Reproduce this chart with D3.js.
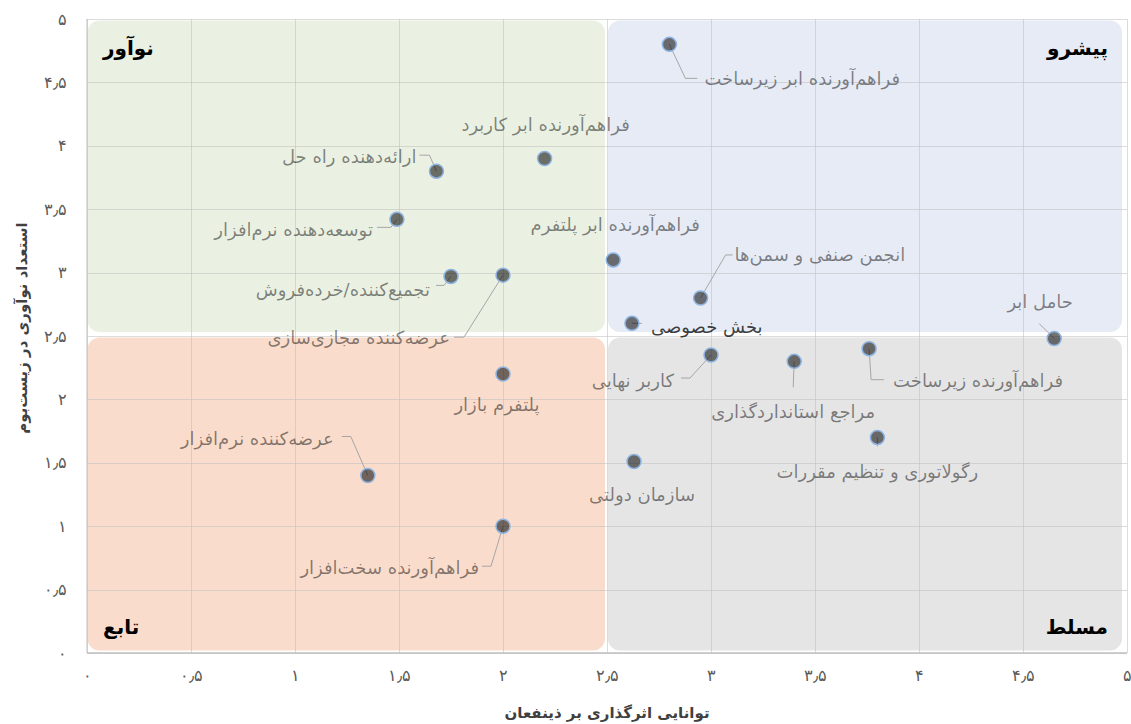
<!DOCTYPE html>
<html lang="fa">
<head>
<meta charset="utf-8">
<script src="https://cdn.jsdelivr.net/npm/d3@7"></script>
<style>
    body { margin: 0; background: #fff; }
    svg { display: block; font-family: "DejaVu Sans", "Noto Sans", sans-serif; }
</style>
</head>
<body>
<div id="chart"></div>
<script>
// chart data
const actors = [
    'فراهم‌آورنده ابر زیرساخت',
    'فراهم‌آورنده ابر کاربرد',
    'ارائه‌دهنده راه حل',
    'توسعه‌دهنده نرم‌افزار',
    'تجمیع‌کننده/خرده‌فروش',
    'عرضه‌کننده مجازی‌سازی',
    'فراهم‌آورنده ابر پلتفرم',
    'انجمن صنفی و سمن‌ها',
    'بخش خصوصی',
    'حامل ابر',
    'کاربر نهایی',
    'مراجع استانداردگذاری',
    'فراهم‌آورنده زیرساخت',
    'رگولاتوری و تنظیم مقررات',
    'سازمان دولتی',
    'پلتفرم بازار',
    'عرضه‌کننده نرم‌افزار',
    'فراهم‌آورنده سخت‌افزار'
];
const influence = [2.8, 2.2, 1.68, 1.49, 1.75, 2.0, 2.53, 2.95, 2.62, 4.65, 3.0, 3.4, 3.76, 3.8, 2.63, 2.0, 1.35, 2.0];
const innovation = [4.8, 3.9, 3.8, 3.42, 2.97, 2.98, 3.1, 2.8, 2.6, 2.48, 2.35, 2.3, 2.4, 1.7, 1.51, 2.2, 1.4, 1.0];

const tickValues = [0, 0.5, 1, 1.5, 2, 2.5, 3, 3.5, 4, 4.5, 5];
const tickLabels = ['۰', '۰٫۵', '۱', '۱٫۵', '۲', '۲٫۵', '۳', '۳٫۵', '۴', '۴٫۵', '۵'];

const quadrantNames = ['نوآور', 'پیشرو', 'تابع', 'مسلط'];
const xTitle = 'توانایی اثرگذاری بر ذینفعان';
const yTitle = 'استعداد نوآوری در زیست‌بوم';

// label placement relative to each point (pixels)
const labelLayout = [
    { dx: 35, dy: 34, anchor: 'start', leader: [[16, 34], [28, 34]] },
    { dx: 1, dy: -34, anchor: 'middle', leader: null },
    { dx: -20, dy: -14, anchor: 'end', leader: [[-7, -16], [-17, -16]] },
    { dx: -24, dy: 10, anchor: 'end', leader: [[-6, 8], [-20, 8]] },
    { dx: -21, dy: 13, anchor: 'end', leader: [[-7, 9], [-15, 9]] },
    { dx: -53, dy: 63, anchor: 'end', leader: [[-39, 62], [-49, 62]] },
    { dx: 2, dy: -35, anchor: 'middle', leader: null },
    { dx: 34, dy: -43, anchor: 'start', leader: [[25, -43], [32, -43]] },
    { dx: 19, dy: 3, anchor: 'start', leader: [[10, 0]] },
    { dx: -14, dy: -37, anchor: 'middle', leader: [[-15, -15]] },
    { dx: -37, dy: 26, anchor: 'end', leader: [[-21, 23], [-30, 23]] },
    { dx: -1, dy: 50, anchor: 'middle', leader: [[-1, 26]] },
    { dx: 24, dy: 32, anchor: 'start', leader: [[2, 31], [15, 31]] },
    { dx: 0, dy: 34, anchor: 'middle', leader: [[0, 9]] },
    { dx: 8, dy: 33, anchor: 'middle', leader: null },
    { dx: -6, dy: 31, anchor: 'middle', leader: null },
    { dx: -34, dy: -37, anchor: 'end', leader: [[-17, -39], [-26, -39]] },
    { dx: -24, dy: 41, anchor: 'end', leader: [[-12, 40], [-21, 40]] }
];

const width = 1131;
const height = 724;
const margin = { top: 19, right: 4, bottom: 71, left: 87 };

const svg = d3.select('#chart')
    .append('svg')
    .attr('width', width)
    .attr('height', height);

const x = d3.scaleLinear().domain([0, 5]).range([margin.left, width - margin.right]);
const y = d3.scaleLinear().domain([0, 5]).range([height - margin.bottom, margin.top]);

// quadrant backgrounds
const quadrants = [
    { x0: x(0) + 0.5, x1: x(2.5) - 2, y0: y(5) + 1.5, y1: y(2.5) - 4, fill: '#eaf1e3' },
    { x0: x(2.5) + 1, x1: x(5) - 5, y0: y(5) + 1.5, y1: y(2.5) - 4, fill: '#e6ebf5' },
    { x0: x(0) + 0.5, x1: x(2.5) - 2, y0: y(2.5) + 1.5, y1: y(0) - 2.5, fill: '#f9dccb' },
    { x0: x(2.5) + 1, x1: x(5) - 5, y0: y(2.5) + 1.5, y1: y(0) - 2.5, fill: '#e5e5e5' }
];

svg.append('g')
    .selectAll('rect')
    .data(quadrants)
    .join('rect')
    .attr('x', d => d.x0)
    .attr('y', d => d.y0)
    .attr('width', d => d.x1 - d.x0)
    .attr('height', d => d.y1 - d.y0)
    .attr('rx', 12)
    .attr('fill', d => d.fill);

// grid
const grid = svg.append('g')
    .attr('stroke', '#bfbfbf')
    .attr('stroke-opacity', 0.55)
    .attr('stroke-width', 1);

grid.selectAll('line.v')
    .data(tickValues)
    .join('line')
    .attr('class', 'v')
    .attr('x1', d => Math.round(x(d)) + 0.5)
    .attr('x2', d => Math.round(x(d)) + 0.5)
    .attr('y1', y(5))
    .attr('y2', y(0));

grid.selectAll('line.h')
    .data(tickValues)
    .join('line')
    .attr('class', 'h')
    .attr('x1', x(0))
    .attr('x2', x(5))
    .attr('y1', d => Math.round(y(d)) + 0.5)
    .attr('y2', d => Math.round(y(d)) + 0.5);

// axis lines
svg.append('line')
    .attr('x1', x(0)).attr('x2', x(5))
    .attr('y1', y(0)).attr('y2', y(0))
    .attr('stroke', '#bfbfbf')
    .attr('stroke-width', 1.5);

svg.append('line')
    .attr('x1', x(0)).attr('x2', x(0))
    .attr('y1', y(0)).attr('y2', y(5))
    .attr('stroke', '#bfbfbf')
    .attr('stroke-width', 1);

// tick labels
const xAxis = d3.axisBottom(x)
    .tickValues(tickValues)
    .tickSize(0)
    .tickPadding(17)
    .tickFormat((d, i) => tickLabels[i]);

svg.append('g')
    .attr('transform', `translate(0,${y(0)})`)
    .call(xAxis)
    .call(g => g.select('.domain').remove())
    .selectAll('text')
    .attr('fill', '#595959')
    .style('font-size', '16px');

const yAxis = d3.axisLeft(y)
    .tickValues(tickValues)
    .tickSize(0)
    .tickPadding(20)
    .tickFormat((d, i) => tickLabels[i]);

svg.append('g')
    .attr('transform', `translate(${x(0)},0)`)
    .call(yAxis)
    .call(g => g.select('.domain').remove())
    .selectAll('text')
    .attr('fill', '#595959')
    .style('font-size', '16px');

// axis titles
svg.append('text')
    .attr('x', 607)
    .attr('y', 713)
    .attr('text-anchor', 'middle')
    .attr('dy', '0.35em')
    .style('font-size', '15px')
    .style('font-weight', 'bold')
    .attr('fill', '#404040')
    .text(xTitle);

svg.append('text')
    .attr('transform', 'translate(22,328) rotate(-90)')
    .attr('text-anchor', 'middle')
    .attr('dy', '0.35em')
    .style('font-size', '15px')
    .style('font-weight', 'bold')
    .attr('fill', '#404040')
    .text(yTitle);

// quadrant names
const quadrantPos = [
    { px: x(0) + 16, py: y(5) + 29, anchor: 'start' },
    { px: x(5) - 19, py: y(5) + 29, anchor: 'end' },
    { px: x(0) + 16, py: y(0) - 26, anchor: 'start' },
    { px: x(5) - 19, py: y(0) - 26, anchor: 'end' }
];

svg.append('g')
    .selectAll('text')
    .data(quadrantNames)
    .join('text')
    .attr('x', (d, i) => quadrantPos[i].px)
    .attr('y', (d, i) => quadrantPos[i].py)
    .attr('dy', '0.35em')
    .attr('text-anchor', (d, i) => quadrantPos[i].anchor)
    .style('font-size', '20px')
    .style('font-weight', 'bold')
    .attr('fill', '#000')
    .text(d => d);

const points = actors.map((name, i) => ({
    name,
    px: x(influence[i]),
    py: y(innovation[i]),
    layout: labelLayout[i]
}));

// leader lines
svg.append('g')
    .selectAll('path')
    .data(points.filter(p => p.layout.leader))
    .join('path')
    .attr('d', p => d3.line()([[p.px, p.py], ...p.layout.leader.map(([a, b]) => [p.px + a, p.py + b])]))
    .attr('fill', 'none')
    .attr('stroke', '#a6a6a6')
    .attr('stroke-width', 1);

// markers
svg.append('g')
    .selectAll('circle')
    .data(points)
    .join('circle')
    .attr('cx', p => p.px)
    .attr('cy', p => p.py)
    .attr('r', 7)
    .attr('fill', '#000')
    .attr('fill-opacity', 0.55)
    .attr('stroke', '#8db3e2')
    .attr('stroke-width', 1.5);

// data labels
svg.append('g')
    .selectAll('text')
    .data(points)
    .join('text')
    .attr('x', p => p.px + p.layout.dx)
    .attr('y', p => p.py + p.layout.dy)
    .attr('dy', '0.35em')
    .attr('text-anchor', p => p.layout.anchor)
    .style('font-size', '18px')
    .attr('fill', '#000')
    .attr('fill-opacity', (p, i) => i === 8 ? 0.75 : 0.47)
    .text(p => p.name);
</script>
</body>
</html>
